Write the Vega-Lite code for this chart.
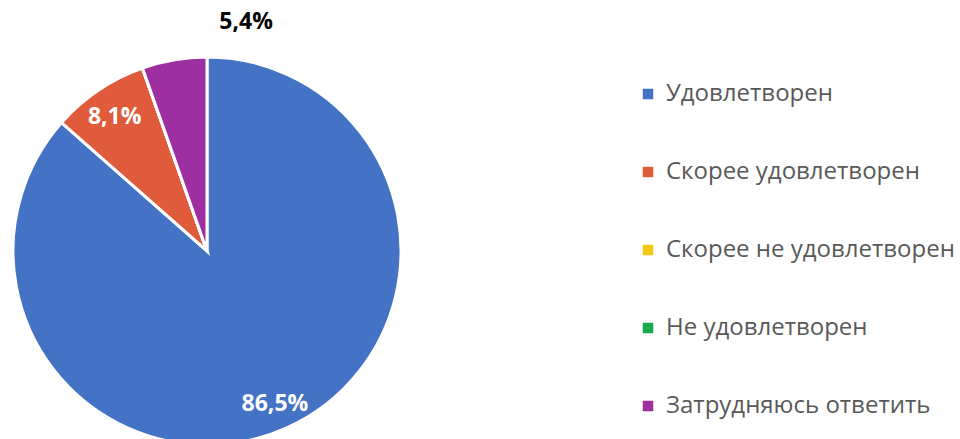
{
  "$schema": "https://vega.github.io/schema/vega-lite/v6.json",
  "width": 414,
  "height": 502,
  "padding": 0,
  "background": "white",
  "data": {
    "values": [
      {"category": "Удовлетворен", "value": 86.5, "order": 1, "label": "86,5%"},
      {"category": "Скорее удовлетворен", "value": 8.1, "order": 2, "label": "8,1%"},
      {"category": "Скорее не удовлетворен", "value": 0, "order": 3, "label": ""},
      {"category": "Не удовлетворен", "value": 0, "order": 4, "label": ""},
      {"category": "Затрудняюсь ответить", "value": 5.4, "order": 5, "label": "5,4%"}
    ]
  },
  "encoding": {
    "theta": {"field": "value", "type": "quantitative", "stack": true},
    "order": {"field": "order", "type": "quantitative"}
  },
  "layer": [
    {
      "mark": {"type": "arc", "outerRadius": 194, "stroke": "white", "strokeWidth": 3},
      "encoding": {
        "color": {
          "field": "category",
          "type": "nominal",
          "sort": ["Удовлетворен", "Скорее удовлетворен", "Скорее не удовлетворен", "Не удовлетворен", "Затрудняюсь ответить"],
          "scale": {
            "domain": ["Удовлетворен", "Скорее удовлетворен", "Скорее не удовлетворен", "Не удовлетворен", "Затрудняюсь ответить"],
            "range": ["#4472C4", "#E05A3C", "#F2C811", "#1AA84F", "#9E2FA0"]
          },
          "legend": {
            "title": null,
            "orient": "none",
            "legendX": 636,
            "legendY": 82,
            "symbolType": "square",
            "symbolSize": 110,
            "symbolStrokeWidth": 0,
            "labelFont": "Open Sans",
            "labelFontSize": 24,
            "labelColor": "#595959",
            "labelOffset": 6,
            "labelLimit": 400,
            "rowPadding": 54
          }
        }
      }
    },
    {
      "transform": [{"filter": "datum.order <= 2"}],
      "mark": {"type": "text", "radius": 165, "font": "Open Sans", "fontSize": 23, "fontWeight": "bold", "fill": "white", "dy": 3},
      "encoding": {"text": {"field": "label"}}
    },
    {
      "transform": [{"filter": "datum.order == 5"}],
      "mark": {"type": "text", "radius": 232, "font": "Open Sans", "fontSize": 23, "fontWeight": "bold", "fill": "black"},
      "encoding": {"text": {"field": "label"}}
    }
  ]
}
